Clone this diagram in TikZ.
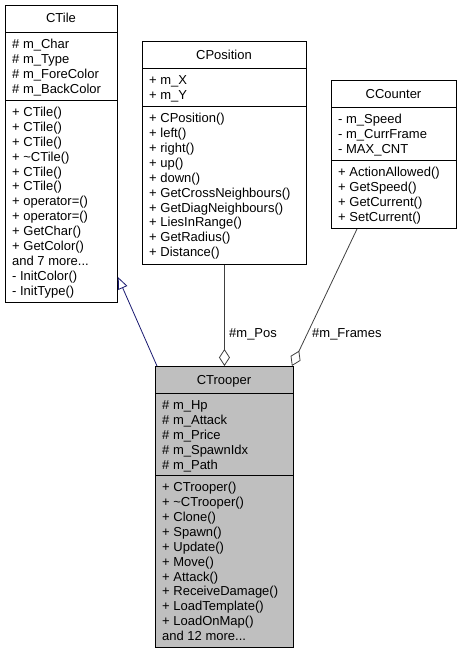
\documentclass[tikz,border=0pt]{standalone}
\usepackage{fontspec}
\setmainfont{Liberation Sans}
\usetikzlibrary{arrows.meta,calc}
\definecolor{midblue}{HTML}{191970}
\definecolor{conngray}{HTML}{404040}
\definecolor{activefill}{HTML}{BFBFBF}
\newcommand{\mydots}{...}
\tikzset{
  classbox/.style={draw=black, line width=0.9pt, fill=white, inner sep=0pt, anchor=north west},
  txt/.style={font=\fontsize{13}{14.9}\selectfont, inner sep=0pt, anchor=base west},
  ttl/.style={font=\fontsize{13}{14.9}\selectfont, inner sep=0pt, anchor=base},
  sepline/.style={draw=black, line width=0.9pt},
  inh/.style={draw=midblue, line width=0.8pt, -{Triangle[open, length=12pt, width=10pt, fill=white]}},
  agg/.style={draw=conngray, line width=0.8pt, -{Diamond[open, length=17pt, width=11pt, fill=white]}},
  lbl/.style={font=\fontsize{13}{14.9}\selectfont, inner sep=0pt, anchor=base west}
}
\newcommand{\classlines}[4]{% prefix, x, sep y, list
  \foreach \t [count=\i from 0] in {#4} {
    \node[txt] (#1\i) at (#2, {#3 + 16.4 + 14.9*\i}) {\t};
  }
}
\begin{document}
\begin{tikzpicture}[x=1pt, y=-1pt]
\useasboundingbox (0,0) rectangle (461,653);

% ---- CTile ----
\node[classbox, minimum width=112pt, minimum height=297.1pt] (tile) at (5,5) {};
\draw[sepline] (5,32) -- (117,32);
\draw[sepline] (5,100) -- (117,100);
\node[ttl] (tileT) at (61,23) {CTile};
\classlines{tileA}{12}{32}{\# m\_Char,\# m\_Type,\# m\_ForeColor,\# m\_BackColor}
\classlines{tileM}{12}{100}{+ CTile(),+ CTile(),+ CTile(),+ \textasciitilde CTile(),+ CTile(),+ CTile(),+ operator=(),+ operator=(),+ GetChar(),+ GetColor(),and 7 more\mydots,- InitColor(),- InitType()}

% ---- CPosition ----
\node[classbox, minimum width=164pt, minimum height=222.6pt] (pos) at (142,41) {};
\draw[sepline] (142,68) -- (306,68);
\draw[sepline] (142,106.2) -- (306,106.2);
\node[ttl] (posT) at (224,59) {CPosition};
\classlines{posA}{149}{68}{+ m\_X,+ m\_Y}
\classlines{posM}{149}{106.2}{+ CPosition(),+ left(),+ right(),+ up(),+ down(),+ GetCrossNeighbours(),+ GetDiagNeighbours(),+ LiesInRange(),+ GetRadius(),+ Distance()}

% ---- CCounter ----
\node[classbox, minimum width=125pt, minimum height=148.1pt] (cnt) at (331,80) {};
\draw[sepline] (331,107) -- (456,107);
\draw[sepline] (331,160.1) -- (456,160.1);
\node[ttl] (cntT) at (393.5,98) {CCounter};
\classlines{cntA}{338}{107}{- m\_Speed,- m\_CurrFrame,- MAX\_CNT}
\classlines{cntM}{338}{160.1}{+ ActionAllowed(),+ GetSpeed(),+ GetCurrent(),+ SetCurrent()}

% ---- CTrooper ----
\node[classbox, fill=activefill, minimum width=138pt, minimum height=281pt] (trooper) at (155,366) {};
\draw[sepline] (155,393) -- (293,393);
\draw[sepline] (155,475.2) -- (293,475.2);
\node[ttl] (troT) at (224,384) {CTrooper};
\classlines{troA}{162}{393}{\# m\_Hp,\# m\_Attack,\# m\_Price,\# m\_SpawnIdx,\# m\_Path}
\classlines{troM}{162}{475.2}{+ CTrooper(),+ \textasciitilde CTrooper(),+ Clone(),+ Spawn(),+ Update(),+ Move(),+ Attack(),+ ReceiveDamage(),+ LoadTemplate(),+ LoadOnMap(),and 12 more\mydots}

% ---- connectors ----
\coordinate (inhFrom) at ($(trooper.north west)+(2,0)$);
\coordinate (inhTo) at ($(tile.north east)+(0,272)$);
\draw[inh] (inhFrom) -- (inhTo);

\draw[agg] (pos.south) -- (trooper.north);
\node[lbl] (posLbl) at (229,337.5) {\#m\_Pos};

\coordinate (cntFrom) at ($(cnt.south west)+(26,0)$);
\coordinate (cntTo) at ($(trooper.north east)+(-2,0)$);
\draw[agg] (cntFrom) -- (cntTo);
\node[lbl] (cntLbl) at (312,337.5) {\#m\_Frames};
\end{tikzpicture}
\end{document}
